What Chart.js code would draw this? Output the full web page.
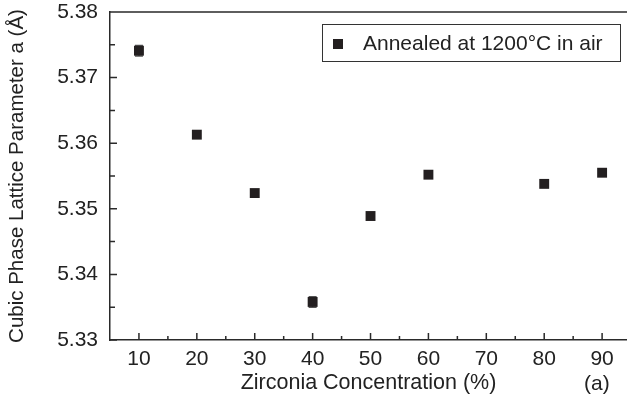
<!DOCTYPE html>
<html>
<head>
<meta charset="utf-8">
<script src="https://cdn.jsdelivr.net/npm/chart.js@4.4.1/dist/chart.umd.min.js"></script>
<style>
  html, body { margin: 0; padding: 0; background: #fff; }
  #wrap { width: 627px; height: 401px; }
</style>
</head>
<body>
<div id="wrap"><canvas id="latticeChart" width="627" height="401"></canvas></div>
<script>
// data
const concentration = [10, 20, 30, 40, 50, 60, 80, 90];
const latticeParam = [5.3741, 5.3613, 5.3524, 5.3358, 5.3489, 5.3552, 5.3538, 5.3555];
const latticeErr = [0.0008, 0, 0, 0.0008, 0, 0, 0, 0];
const xTicks = [10, 20, 30, 40, 50, 60, 70, 80, 90];
const yTicks = [5.33, 5.34, 5.35, 5.36, 5.37, 5.38];

const seriesLabel = 'Annealed at 1200°C in air';
const ink = '#231f20';
const axisColor = '#2a2a2a';
const fontFamily = '"Liberation Sans", Arial, sans-serif';

// midpoints between major ticks -> minor ticks
function minors(ticks) {
  const out = [];
  for (let i = 0; i < ticks.length - 1; i++) out.push((ticks[i] + ticks[i + 1]) / 2);
  return out;
}

// small vertical error bars, drawn under the markers
const errorBars = {
  id: 'errorBars',
  beforeDatasetsDraw(chart) {
    const { ctx, scales: { x, y } } = chart;
    ctx.save();
    ctx.strokeStyle = '#555';
    ctx.lineWidth = 1.5;
    concentration.forEach((c, i) => {
      const e = latticeErr[i];
      if (!e) return;
      const px = x.getPixelForValue(c);
      const top = y.getPixelForValue(latticeParam[i] + e);
      const bot = y.getPixelForValue(latticeParam[i] - e);
      ctx.beginPath();
      ctx.moveTo(px, top); ctx.lineTo(px, bot);
      ctx.moveTo(px - 4, top); ctx.lineTo(px + 4, top);
      ctx.moveTo(px - 4, bot); ctx.lineTo(px + 4, bot);
      ctx.stroke();
    });
    ctx.restore();
  }
};

// top frame line, inward ticks, boxed legend and panel tag
const frame = {
  id: 'frame',
  afterDraw(chart) {
    const { ctx, chartArea: a, scales: { x, y } } = chart;
    ctx.save();
    ctx.strokeStyle = axisColor;
    ctx.lineWidth = 1.5;
    ctx.beginPath();
    ctx.moveTo(a.left, a.top);
    ctx.lineTo(a.right, a.top);

    xTicks.forEach(v => {
      const px = x.getPixelForValue(v);
      ctx.moveTo(px, a.bottom); ctx.lineTo(px, a.bottom - 7);
    });
    minors(xTicks).forEach(v => {
      const px = x.getPixelForValue(v);
      ctx.moveTo(px, a.bottom); ctx.lineTo(px, a.bottom - 4);
    });
    yTicks.forEach(v => {
      const py = y.getPixelForValue(v);
      ctx.moveTo(a.left, py); ctx.lineTo(a.left + 7, py);
    });
    minors(yTicks).forEach(v => {
      const py = y.getPixelForValue(v);
      ctx.moveTo(a.left, py); ctx.lineTo(a.left + 5, py);
    });
    ctx.stroke();

    // legend
    ctx.lineWidth = 1;
    ctx.strokeStyle = '#333';
    ctx.strokeRect(322.5, 24.5, 298, 37);
    ctx.fillStyle = ink;
    ctx.fillRect(333, 39, 10, 10);
    ctx.font = '21px ' + fontFamily;
    ctx.textBaseline = 'middle';
    ctx.textAlign = 'left';
    ctx.fillStyle = '#222';
    ctx.fillText(seriesLabel, 363, 44);

    // panel tag
    ctx.fillText('(a)', 584, 384);
    ctx.restore();
  }
};

const ctx = document.getElementById('latticeChart').getContext('2d');
new Chart(ctx, {
  type: 'scatter',
  data: {
    datasets: [{
      label: seriesLabel,
      data: concentration.map((c, i) => ({ x: c, y: latticeParam[i] })),
      pointStyle: 'rect',
      pointRadius: 7,
      pointHoverRadius: 7,
      backgroundColor: ink,
      borderColor: ink,
      borderWidth: 0
    }]
  },
  options: {
    responsive: false,
    animation: false,
    layout: { autoPadding: false, padding: { top: 12, right: 0, left: 0, bottom: 0 } },
    plugins: {
      legend: { display: false },
      tooltip: { enabled: false }
    },
    scales: {
      x: {
        type: 'linear',
        min: 5,
        max: 94.3,
        afterBuildTicks: s => { s.ticks = xTicks.map(v => ({ value: v })); },
        afterFit: s => { s.height = 61; s.paddingLeft = 0; s.paddingRight = 0; },
        grid: { display: true, drawOnChartArea: false, drawTicks: false },
        border: { display: true, color: axisColor, width: 1.5 },
        ticks: {
          padding: 7,
          color: '#222',
          font: { family: fontFamily, size: 21 },
          maxRotation: 0
        },
        title: {
          display: true,
          text: 'Zirconia Concentration (%)',
          color: '#222',
          font: { family: fontFamily, size: 21.5 },
          padding: { top: 0, bottom: 5 }
        }
      },
      y: {
        min: 5.33,
        max: 5.38,
        afterBuildTicks: s => { s.ticks = yTicks.map(v => ({ value: v })); },
        afterFit: s => { s.width = 110; s.paddingTop = 0; s.paddingBottom = 0; },
        grid: { display: true, drawOnChartArea: false, drawTicks: false },
        border: { display: true, color: axisColor, width: 1.5 },
        ticks: {
          padding: 12,
          color: '#222',
          font: { family: fontFamily, size: 21 },
          callback: v => v.toFixed(2)
        },
        title: {
          display: true,
          text: 'Cubic Phase Lattice Parameter a (Å)',
          color: '#222',
          font: { family: fontFamily, size: 20.5 },
          padding: { top: 5, bottom: 0 }
        }
      }
    }
  },
  plugins: [errorBars, frame]
});
</script>
</body>
</html>
